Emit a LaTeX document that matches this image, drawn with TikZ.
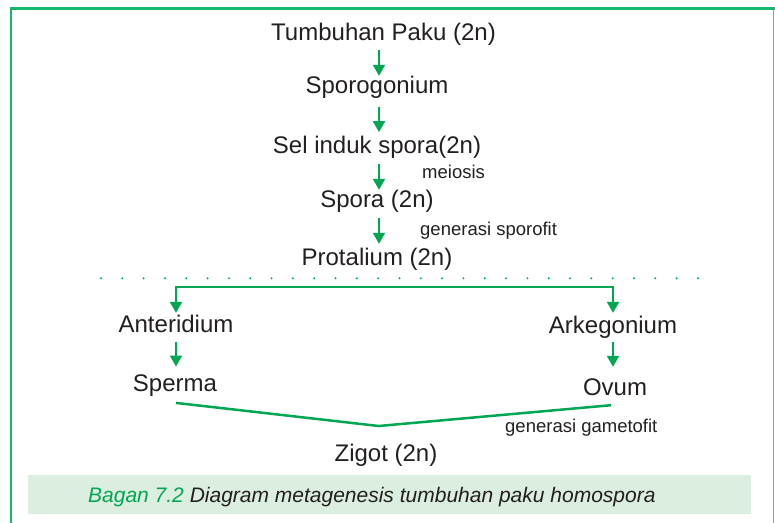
\documentclass[tikz,border=0pt]{standalone}
\usepackage{fontspec}
\setmainfont{Liberation Sans}
\usetikzlibrary{arrows.meta}
\definecolor{txt}{HTML}{231F20}
\definecolor{arrg}{HTML}{00A651}
\definecolor{frg}{HTML}{14B86A}
\definecolor{frl}{HTML}{3FCF8E}
\definecolor{capbg}{HTML}{DCEEDF}
\begin{document}
\begin{tikzpicture}[x=1pt,y=-1pt,
  main/.style={anchor=base,inner sep=0pt,text=txt,font=\fontsize{24}{28}\selectfont,text height=17pt,text depth=6pt},
  small/.style={anchor=base west,inner sep=0pt,text=txt,font=\fontsize{18.5}{22}\selectfont},
  arr/.style={draw=arrg,line width=2pt,-{Triangle[width=12pt,length=11pt]}},
  arrboth/.style={draw=arrg,line width=2.2pt,{Triangle[width=12pt,length=11pt]}-{Triangle[width=12pt,length=11pt]}},
  gline/.style={draw=arrg,line width=2.5pt},
]
\useasboundingbox (0,0) rectangle (775,522);
% frame
\draw[frg,line width=2pt] (11,530) -- (11,8.5);
\draw[frl,line width=1.3pt] (773.4,8.5) -- (773.4,530);
\draw[frg,line width=3pt] (10,8.5) -- (775,8.5);
% caption box
\fill[capbg] (28,475) rectangle (751,514);
% nodes
\node[main] (tp) at (383.5,40) {Tumbuhan Paku (2n)};
\node[main] (spg) at (377,93) {Sporogonium};
\node[main] (sel) at (377,153.3) {Sel induk spora(2n)};
\node[main] (spo) at (377,207.7) {Spora (2n)};
\node[main] (pro) at (377,265) {Protalium (2n)};
\node[main] (ant) at (176,332.7) {Anteridium};
\node[main] (ark) at (613,333) {Arkegonium};
\node[main] (spe) at (175,391) {Sperma};
\node[main] (ovu) at (615,395) {Ovum};
\node[main] (zig) at (386,461.7) {Zigot (2n)};
\node[small] (mei) at (422,178.3) {meiosis};
\node[small] (gsp) at (420,235) {generasi sporofit};
\node[small] (gga) at (505,432) {generasi gametofit};
\node[anchor=base west,inner sep=0pt,text=txt,font=\fontsize{21}{25}\selectfont\itshape] (cap) at (88,502.7) {\textcolor{arrg}{Bagan 7.2} Diagram metagenesis tumbuhan paku homospora};
% arrows
\coordinate (col) at (379,0);
\draw[arr,shorten <=4pt,shorten >=0pt] (tp.south -| col) -- (spg.north -| col);
\draw[arr,shorten <=8pt,shorten >=4pt] (spg.south -| col) -- (sel.north -| col);
\draw[arr,shorten <=4.7pt,shorten >=0.7pt] (sel.south -| col) -- (spo.north -| col);
\draw[arr,shorten <=4.3pt,shorten >=4pt] (spo.south -| col) -- (pro.north -| col);
% dotted separator
\foreach \i in {0,...,28} \fill[arrg] (101+21.32*\i,278.3) circle (1.1);
% branch
\coordinate (bar) at (394,287.3);
\draw[arrboth,shorten <=2.7pt,shorten >=3pt] (ant.north) |- (bar) -| (ark.north);
\draw[arr,shorten <=3pt,shorten >=7.3pt] (ant.south) -- (spe.north -| ant.south);
\draw[arr,shorten <=3pt,shorten >=11pt] (ark.south) -- (ovu.north -| ark.south);
% V junction
\coordinate (vx) at (378.7,426);
\draw[gline] ([xshift=1pt,yshift=-5.7pt]spe.south) -- (vx) -- ([xshift=-4pt,yshift=-4pt]ovu.south);
\end{tikzpicture}
\end{document}
